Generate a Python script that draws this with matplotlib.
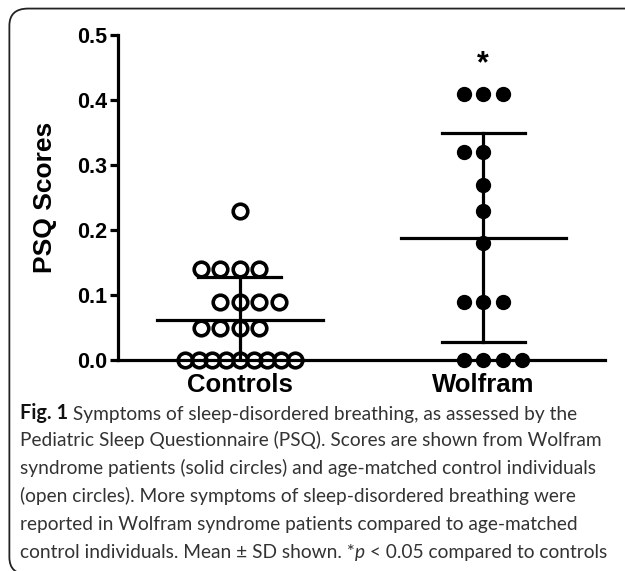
import numpy as np
import matplotlib.pyplot as plt
from matplotlib.patches import FancyBboxPatch
from matplotlib.text import Annotation

# PSQ scores
controls = [0, 0, 0, 0, 0, 0, 0, 0, 0,
            0.05, 0.05, 0.05, 0.05,
            0.09, 0.09, 0.09, 0.09,
            0.14, 0.14, 0.14, 0.14,
            0.23]
wolfram = [0, 0, 0, 0,
           0.09, 0.09, 0.09,
           0.18, 0.23, 0.27,
           0.32, 0.32,
           0.41, 0.41, 0.41]
groups = ['Controls', 'Wolfram']
yticks = [0.0, 0.1, 0.2, 0.3, 0.4, 0.5]

caption_head = "Fig. 1"
caption = [
    " Symptoms of sleep-disordered breathing, as assessed by the",
    "Pediatric Sleep Questionnaire (PSQ). Scores are shown from Wolfram",
    "syndrome patients (solid circles) and age-matched control individuals",
    "(open circles). More symptoms of sleep-disordered breathing were",
    "reported in Wolfram syndrome patients compared to age-matched",
    "control individuals. Mean ± SD shown. *",
]
caption_tail = ["p", " < 0.05 compared to controls"]


def swarm(values, center, step=0.08, maxspan=0.45):
    # GraphPad-like: same values spread sideways, alternating which side gets the extra point
    vals = np.array(values)
    xs = np.zeros(len(vals))
    for i, v in enumerate(np.unique(vals)):
        idx = np.where(vals == v)[0]
        n = len(idx)
        st = step if n < 2 else min(step, maxspan / (n - 1))
        sign = 1 if i % 2 == 0 else -1
        offs = [0]
        k = 1
        while len(offs) < n:
            offs.append(sign * k)
            if len(offs) < n:
                offs.append(-sign * k)
            k += 1
        xs[idx] = center + np.array(sorted(offs)) * st
    return xs


def after(fig, prev, s, **kw):
    # put text s right after the text artist prev, on the same baseline
    return fig.add_artist(Annotation(s, xy=(1, 0), xycoords=prev, xytext=(0, 0),
                                     textcoords='offset points', va='bottom', **kw))


plt.rcParams['font.family'] = ['Liberation Sans', 'DejaVu Sans']

fig = plt.figure(figsize=(6.25, 5.71), dpi=100)

# rounded frame around figure + caption (right and bottom edges run off the page)
frame = FancyBboxPatch((0.015, -0.006), 1.2, 0.991, boxstyle='round,pad=0,rounding_size=0.03',
                       transform=fig.transFigure, fill=False, lw=1.3, ec='#222222',
                       clip_on=False)
fig.patches.append(frame)

ax = fig.add_axes([0.189, 0.3695, 0.779, 0.569])

lw = 2.3
for pos, data, filled in [(1, controls, False), (2, wolfram, True)]:
    xs = swarm(data, pos)
    if filled:
        ax.plot(xs, data, 'o', ms=10, color='black', mec='black', zorder=3, clip_on=False)
    else:
        ax.plot(xs, data, 'o', ms=10.5, mfc='none', mec='black', mew=2.6, zorder=3, clip_on=False)
    m = np.mean(data)
    sd = np.std(data, ddof=1)
    lo = max(m - sd, 0)
    ax.plot([pos - 0.34, pos + 0.34], [m, m], color='black', lw=lw, zorder=2)
    ax.plot([pos, pos], [lo, m + sd], color='black', lw=lw, zorder=2)
    ax.plot([pos - 0.17, pos + 0.17], [m + sd, m + sd], color='black', lw=lw, zorder=2)
    if lo > 0:
        ax.plot([pos - 0.17, pos + 0.17], [lo, lo], color='black', lw=lw, zorder=2)

ax.text(2, 0.455, '*', ha='center', va='center', fontsize=22, fontweight='bold')

ax.set_xlim(0.5, 2.5)
ax.set_ylim(0, 0.5)
ax.set_yticks(yticks)
ax.set_yticklabels(['%.1f' % t for t in yticks], fontsize=15.5, fontweight='bold')
ax.set_xticks([1, 2])
ax.set_xticklabels(groups, fontsize=18.5, fontweight='bold')
ax.tick_params(axis='x', length=0, pad=9)
ax.tick_params(axis='y', length=6, width=lw, pad=2)
ax.set_ylabel('PSQ Scores', fontsize=19, fontweight='bold', labelpad=14)
for s in ['top', 'right']:
    ax.spines[s].set_visible(False)
for s in ['left', 'bottom']:
    ax.spines[s].set_linewidth(lw)

# caption
cap = dict(fontsize=13.8, family=['Lato', 'DejaVu Sans'], color='#333333')
y0 = 0.267
dy = 0.0488
head = fig.text(0.032, y0, caption_head, fontweight='bold', va='baseline',
                **dict(cap, color='#111111', fontsize=14.3))
t = after(fig, head, caption[0], **cap)
for i, line in enumerate(caption[1:], start=1):
    t = fig.text(0.032, y0 - i * dy, line, va='baseline', **cap)
pt = after(fig, t, caption_tail[0], style='italic', **cap)
after(fig, pt, caption_tail[1], **cap)

fig.savefig('out.png', dpi=100)
